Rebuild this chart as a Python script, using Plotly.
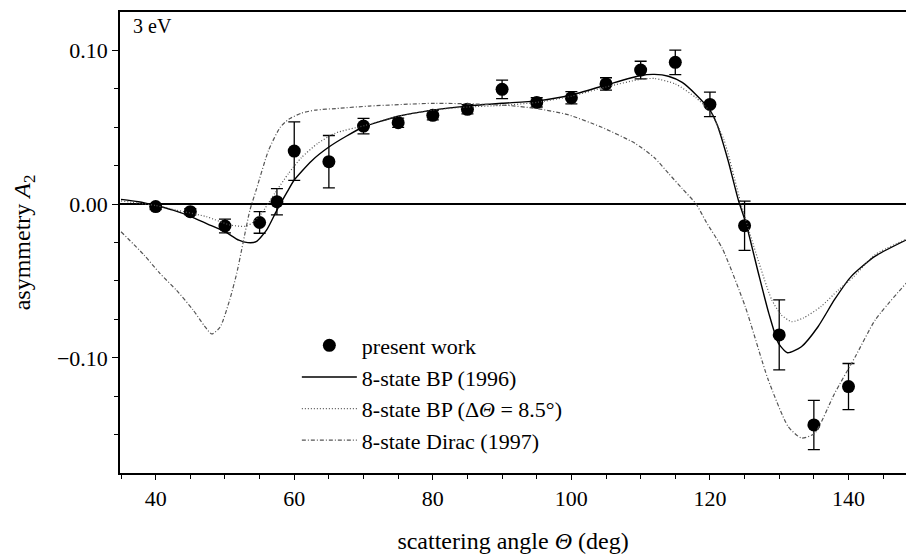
import plotly.graph_objects as go

# Measured asymmetry A2 at 3 eV
angles = [40, 45, 50, 55, 57.5, 60, 65, 70, 75, 80, 85, 90, 95, 100, 105, 110,
          115, 120, 125, 130, 135, 140]
a2 = [-0.0017, -0.005, -0.0143, -0.012, 0.0015, 0.0344, 0.0275, 0.0506, 0.0528,
      0.0576, 0.0615, 0.0745, 0.066, 0.069, 0.078, 0.087, 0.092, 0.0647,
      -0.0141, -0.085, -0.1435, -0.1186]
a2_err = [0.002, 0.002, 0.0045, 0.007, 0.0085, 0.019, 0.017, 0.005, 0.003,
          0.003, 0.003, 0.006, 0.003, 0.004, 0.004, 0.0057, 0.008, 0.008,
          0.016, 0.0227, 0.016, 0.015]

# 8-state Breit-Pauli (1996)
bp_theta = [35, 37.5, 40, 42.5, 45, 47.5, 50, 52, 53.3, 54.5, 56, 57.5, 59, 60,
            62.5, 65, 67.5, 70, 75, 80, 85, 90, 95, 100, 105, 110, 112, 114,
            116, 118, 120, 121, 122.6, 124.1, 125.2, 127, 128.5, 129.9, 131.2,
            133.2, 135.6, 138, 140.4, 143.8, 148.3]
bp_a2 = [0.003, 0.0015, -0.001, -0.004, -0.008, -0.013, -0.018, -0.0235,
         -0.0251, -0.0245, -0.017, -0.004, 0.008, 0.0156, 0.028, 0.037, 0.044,
         0.050, 0.057, 0.061, 0.0636, 0.0654, 0.067, 0.0708, 0.0773, 0.0835,
         0.0842, 0.083, 0.079, 0.071, 0.061, 0.052, 0.0286, 0.0026, -0.0125,
         -0.045, -0.071, -0.0905, -0.0966, -0.0927, -0.0797, -0.062, -0.047,
         -0.034, -0.0234]

# 8-state Breit-Pauli folded with the angular resolution
bpr_theta = [35, 40, 43, 47.3, 50.7, 53, 54, 55.3, 57.2, 59.2, 61, 63.4, 65.9,
             70.2, 75, 80, 85, 90, 95, 100, 105, 110, 112, 115, 118, 120, 122,
             124.5, 126.3, 128.9, 130.3, 131.8, 133.5, 136, 138.5, 140.8,
             143.8, 148.3]
bpr_a2 = [0.002, -0.001, -0.004, -0.0082, -0.0136, -0.0145, -0.012, -0.006,
          0.007, 0.020, 0.030, 0.0394, 0.046, 0.051, 0.057, 0.061, 0.063,
          0.064, 0.066, 0.070, 0.076, 0.081, 0.0815, 0.078, 0.069, 0.060,
          0.042, 0.0, -0.027, -0.062, -0.072, -0.0764, -0.074, -0.0667,
          -0.056, -0.047, -0.033, -0.023]

# 8-state Dirac (1997)
dirac_theta = [35, 38.3, 40.6, 43, 45.4, 47, 48.1, 49.3, 50.7, 51.7, 52.6,
               53.6, 54.5, 56.3, 58, 59.2, 61, 63, 66, 70.8, 80.3, 90, 95,
               99.5, 104.3, 109.2, 112, 114, 116, 118, 119.5, 121.8, 125.1,
               128.4, 131.3, 133.2, 135.1, 138, 141, 143.9, 148.5]
dirac_a2 = [-0.018, -0.033, -0.045, -0.056, -0.0688, -0.079, -0.0844, -0.080,
            -0.062, -0.045, -0.0255, -0.004, 0.009, 0.035, 0.050, 0.055, 0.059,
            0.061, 0.062, 0.0636, 0.0654, 0.0643, 0.062, 0.058, 0.050, 0.0394,
            0.030, 0.020, 0.010, 0.0, -0.012, -0.029, -0.0667, -0.114, -0.1446,
            -0.152, -0.149, -0.123, -0.099, -0.075, -0.0505]

x_tickvals = [40, 60, 80, 100, 120, 140]
x_ticktext = ["40", "60", "80", "100", "120", "140"]
y_tickvals = [0.10, 0.00, -0.10]
y_ticktext = ["0.10", "0.00", "\u22120.10"]

FONT = "Liberation Serif, Times New Roman, serif"

fig = go.Figure()

fig.add_trace(go.Scatter(
    x=angles, y=a2, mode="markers", name="present work",
    marker=dict(color="black", size=13, symbol="circle"),
    error_y=dict(type="data", array=a2_err, visible=True, color="black",
                 thickness=1.3, width=6),
))
fig.add_trace(go.Scatter(
    x=bp_theta, y=bp_a2, mode="lines", name="8-state BP (1996)",
    line=dict(color="black", width=1.4, shape="spline", smoothing=0.6),
))
fig.add_trace(go.Scatter(
    x=bpr_theta, y=bpr_a2, mode="lines",
    name="8-state BP (\u0394<i>\u0398</i> = 8.5\u00b0)",
    line=dict(color="#555555", width=1.2, dash="1px,2px", shape="spline",
              smoothing=0.6),
))
fig.add_trace(go.Scatter(
    x=dirac_theta, y=dirac_a2, mode="lines", name="8-state Dirac (1997)",
    line=dict(color="#555555", width=1.2, dash="4px,2px,1px,2px",
              shape="spline", smoothing=0.6),
))

fig.add_annotation(
    text="3 eV", xref="paper", yref="paper", x=0.014, y=0.997,
    xanchor="left", yanchor="top", showarrow=False,
    font=dict(family=FONT, size=20, color="black"),
)

fig.update_layout(
    width=906, height=558,
    margin=dict(l=120, r=0, t=12, b=85),
    paper_bgcolor="white", plot_bgcolor="white",
    font=dict(family=FONT, size=22, color="black"),
    showlegend=True,
    legend=dict(
        x=0.225, y=0.322, xanchor="left", yanchor="top",
        bgcolor="rgba(0,0,0,0)", font=dict(family=FONT, size=22),
        tracegroupgap=0, itemwidth=55,
    ),
    xaxis=dict(
        range=[34.85, 148.3], showgrid=False, zeroline=False,
        showline=True, linecolor="black", linewidth=1.5, mirror=True,
        ticks="outside", ticklen=5, tickwidth=1.3, tickcolor="black",
        tickmode="array", tickvals=x_tickvals, ticktext=x_ticktext,
        tickfont=dict(family=FONT, size=22),
        minor=dict(dtick=5, tick0=35, ticks="outside", ticklen=4,
                   tickwidth=1, tickcolor="black"),
        title=dict(text="scattering angle <i>\u0398</i> (deg)",
                   font=dict(family=FONT, size=24), standoff=22),
    ),
    yaxis=dict(
        range=[-0.1747, 0.1247], showgrid=False,
        zeroline=True, zerolinecolor="black", zerolinewidth=1.5,
        showline=True, linecolor="black", linewidth=1.5, mirror=False,
        ticks="outside", ticklen=6, tickwidth=1.3, tickcolor="black",
        tickmode="array", tickvals=y_tickvals, ticktext=y_ticktext,
        tickfont=dict(family=FONT, size=22),
        minor=dict(dtick=0.025, tick0=0, ticks="outside", ticklen=4,
                   tickwidth=1, tickcolor="black"),
        title=dict(text="asymmetry <i>A</i><sub>2</sub>",
                   font=dict(family=FONT, size=24), standoff=20),
    ),
)

fig.write_html("out.html")
